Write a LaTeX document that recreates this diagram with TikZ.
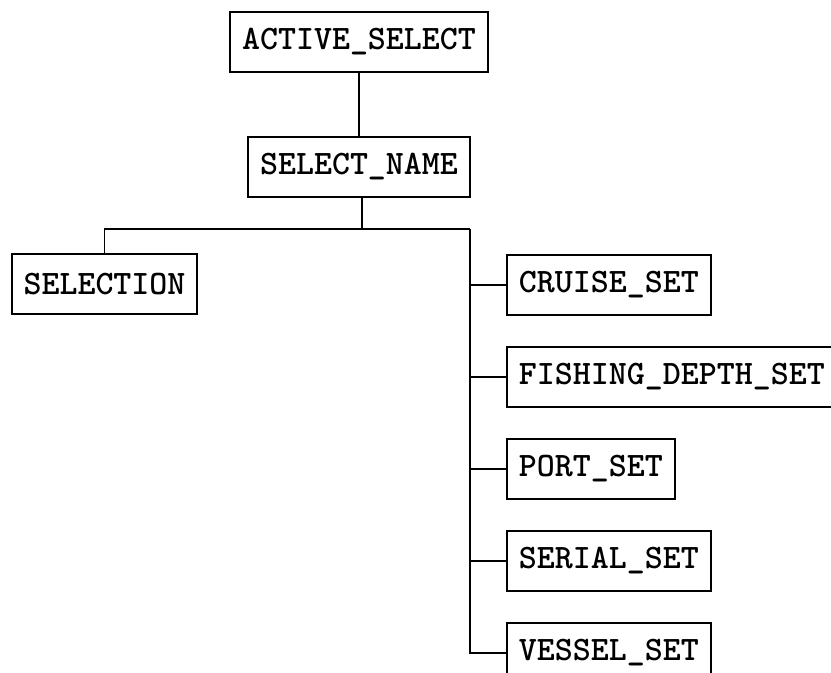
\documentclass[tikz,border=0pt]{standalone}
\usepackage{fontspec}
\usepackage{tikz}
\usetikzlibrary{positioning, calc}

\newcommand{\entityfont}{\fontsize{19.5}{22}\selectfont\ttfamily\bfseries}

\begin{document}
\begin{tikzpicture}[
    node distance=0.6cm and 0.6cm,
    entity/.style={rectangle, draw, line width=1.1pt, inner xsep=0.24cm, minimum height=1.2cm, font=\entityfont},
    link/.style={line width=0.9pt}
]
    \clip (0,0) rectangle (16.62,-13.46);

    \node [entity] at (7.18,-0.84) (active) {ACTIVE\_SELECT};
    \node [entity, below=1.26cm of active] (selname) {SELECT\_NAME};

    \node [entity] at (2.09,-5.68) (selection) {SELECTION};

    % right column, left aligned
    \node [entity, anchor=west] at (10.12,-5.7) (cruise) {CRUISE\_SET};
    \node [entity, below=0.6cm of cruise.south west, anchor=north west] (fishing) {FISHING\_DEPTH\_SET};
    \node [entity, below=0.6cm of fishing.south west, anchor=north west] (port) {PORT\_SET};
    \node [entity, below=0.6cm of port.south west, anchor=north west] (serial) {SERIAL\_SET};
    \node [entity, below=0.6cm of serial.south west, anchor=north west] (vessel) {VESSEL\_SET};

    \coordinate (split) at ($(selname.south)+(0.06,-0.62)$);
    \coordinate (trunk) at (split -| 9.4,0);

    \draw [link] (active) -- (selname);
    \draw [link] (selname.south -| split) -- (split);
    \draw [link] (split) -| (selection);
    \draw [link] (split) -- (trunk);
    \draw [link] (trunk) |- (cruise);
    \draw [link] (trunk) |- (fishing);
    \draw [link] (trunk) |- (port);
    \draw [link] (trunk) |- (serial);
    \draw [link] (trunk) |- (vessel);
\end{tikzpicture}
\end{document}
